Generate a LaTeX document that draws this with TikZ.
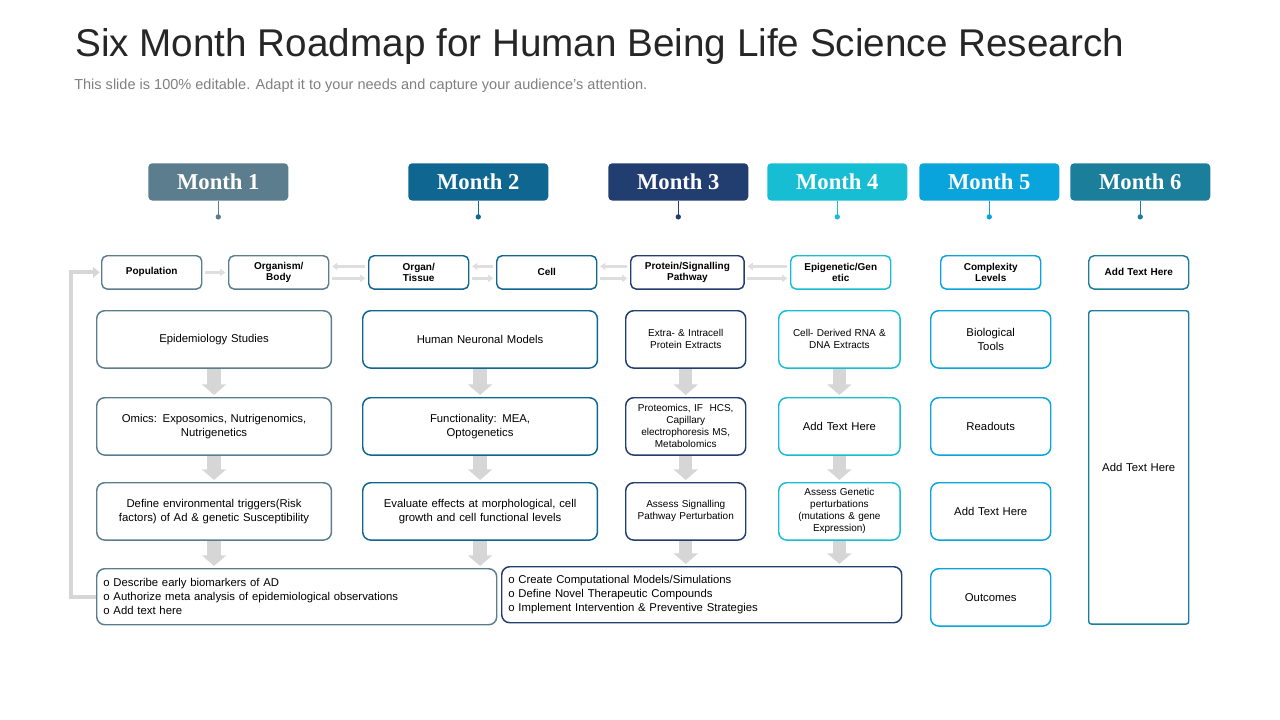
\documentclass[tikz,border=0pt]{standalone}
\usepackage{fontspec}
\setmainfont{Liberation Sans}
\newfontfamily\monthfont{Liberation Serif}
\usetikzlibrary{positioning,arrows.meta}

\definecolor{mOne}{HTML}{5B7D8E}
\definecolor{mTwo}{HTML}{0F6690}
\definecolor{mThree}{HTML}{223D70}
\definecolor{mFour}{HTML}{17BDD2}
\definecolor{mFive}{HTML}{0AA4DC}
\definecolor{mSix}{HTML}{1B7F9B}
\definecolor{arrowGray}{HTML}{D6D6D6}
\definecolor{titleGray}{HTML}{262626}
\definecolor{subGray}{HTML}{7F7F7F}

\tikzset{
  month/.style={fill=#1, text=white, anchor=north west, minimum width=105pt,
    minimum height=28pt, rounded corners=3pt, inner sep=0pt,
    font=\monthfont\fontsize{17}{17}\selectfont\bfseries},
  stem/.style={draw=#1, line width=0.6pt},
  dot/.style={circle, fill=#1, inner sep=0pt, minimum size=4pt},
  level/.style={draw=#1, line width=1.1pt, fill=white, rounded corners=4pt,
    anchor=north west, minimum width=75pt, minimum height=25pt, text width=70pt,
    align=center, inner sep=1pt, font=\fontsize{7.5}{8.5}\selectfont\bfseries},
  stepbox/.style={draw=#1, line width=1.1pt, fill=white, rounded corners=6pt,
    anchor=north west, minimum height=43pt, align=center, inner sep=2pt,
    font=\fontsize{8.5}{10.5}\selectfont},
  smallbox/.style={stepbox=#1, font=\fontsize{7.5}{9}\selectfont},
  listbox/.style={draw=#1, line width=1.1pt, fill=white, rounded corners=6pt,
    anchor=north west, minimum width=300pt, minimum height=42pt, text width=290pt,
    align=left, inner sep=4pt, font=\fontsize{8.5}{10.5}\selectfont},
  downarrow/.style={draw=arrowGray, line width=10pt,
    -{Triangle[length=8pt,width=18pt]}, shorten >=1.5pt},
  harrow/.style={draw=arrowGray!80, line width=2.5pt,
    -{Triangle[length=4pt,width=5.5pt]}, shorten >=2pt, shorten <=2pt},
  backline/.style={draw=arrowGray, line width=3pt,
    -{Triangle[length=5pt,width=8pt]}, shorten >=1pt},
}

\begin{document}
\begin{tikzpicture}[x=0.75pt, y=-0.75pt]
  \useasboundingbox (0,0) rectangle (1280,720);

  % title
  \node[anchor=west, text=titleGray, font=\fontsize{29}{29}\selectfont, inner sep=0pt]
    (title) at (75,47) {Six Month Roadmap for Human Being Life Science Research};
  \node[anchor=west, text=subGray, font=\fontsize{10.9}{12}\selectfont, inner sep=0pt]
    (subtitle) at (74,86)
    {This slide is 100\% editable. Adapt it to your needs and capture your audience's attention.};

  % month headers
  \node[month=mOne]   (mon1) at (148,163)  {Month 1};
  \node[month=mTwo]   (mon2) at (408,163)  {Month 2};
  \node[month=mThree] (mon3) at (608,163)  {Month 3};
  \node[month=mFour]  (mon4) at (767,163)  {Month 4};
  \node[month=mFive]  (mon5) at (919,163)  {Month 5};
  \node[month=mSix]   (mon6) at (1070,163) {Month 6};
  \foreach \m/\c in {mon1/mOne, mon2/mTwo, mon3/mThree, mon4/mFour, mon5/mFive, mon6/mSix}
    \draw[stem=\c] (\m.south) -- ++(0,16) node[dot=\c] {};

  % levels
  \node[level=mOne]   (population) at (101,255)  {Population};
  \node[level=mOne]   (organism)   at (228,255)  {Organism/\\Body};
  \node[level=mTwo]   (organ)      at (368,255)  {Organ/\\Tissue};
  \node[level=mTwo]   (cell)       at (496,255)  {Cell};
  \node[level=mThree, minimum width=85pt, text width=82pt]
                      (protein)    at (630,255)  {Protein/Signalling\\Pathway};
  \node[level=mFour]  (epigenetic) at (790,255)  {Epigenetic/Gen\\etic};
  \node[level=mFive]  (complexity) at (940,255)  {Complexity\\Levels};
  \node[level=mSix]   (addlevel)   at (1088,255) {Add Text Here};

  \draw[harrow] (population) -- (organism);
  \foreach \a/\b in {organism/organ, organ/cell, cell/protein, protein/epigenetic} {
    \draw[harrow] ([yshift=4.5pt]\b.west) -- ([yshift=4.5pt]\a.east);
    \draw[harrow] ([yshift=-4.5pt]\a.east) -- ([yshift=-4.5pt]\b.west);
  }

  % month 1 and 2 columns
  \node[stepbox=mOne, minimum width=176pt, text width=166pt] (epi)   at (96,310)
    {Epidemiology Studies};
  \node[stepbox=mOne, minimum width=176pt, text width=166pt] (omics) at (96,397)
    {Omics: Exposomics, Nutrigenomics,\\Nutrigenetics};
  \node[stepbox=mOne, minimum width=176pt, text width=166pt] (envir) at (96,482)
    {Define environmental triggers(Risk\\factors) of Ad \& genetic Susceptibility};
  \node[stepbox=mTwo, minimum width=176pt, text width=166pt] (neuro) at (362,310)
    {Human Neuronal Models};
  \node[stepbox=mTwo, minimum width=176pt, text width=166pt] (funct) at (362,397)
    {Functionality: MEA,\\Optogenetics};
  \node[stepbox=mTwo, minimum width=176pt, text width=166pt] (evalu) at (362,482)
    {Evaluate effects at morphological, cell\\growth and cell functional levels};

  % month 3 and 4 columns
  \node[smallbox=mThree, minimum width=90pt, text width=84pt] (extra)  at (625,310)
    {Extra- \& Intracell\\Protein Extracts};
  \node[smallbox=mThree, minimum width=90pt, text width=84pt] (proteo) at (625,397)
    {Proteomics, IF\ \ HCS,\\Capillary\\electrophoresis MS,\\Metabolomics};
  \node[smallbox=mThree, minimum width=90pt, text width=84pt] (signal) at (625,482)
    {Assess Signalling\\Pathway Perturbation};
  \node[smallbox=mFour, minimum width=91pt, text width=85pt] (rna)     at (778,310)
    {Cell- Derived RNA \&\\DNA Extracts};
  \node[stepbox=mFour, minimum width=91pt, text width=85pt]  (addfour) at (778,397)
    {Add Text Here};
  \node[smallbox=mFour, minimum width=91pt, text width=85pt] (genetic) at (778,482)
    {Assess Genetic\\perturbations\\(mutations \& gene\\Expression)};

  % month 5 and 6 columns
  \node[stepbox=mFive, minimum width=90pt, text width=84pt] (biotools) at (930,310) {Biological\\Tools};
  \node[stepbox=mFive, minimum width=90pt, text width=84pt] (readouts) at (930,397) {Readouts};
  \node[stepbox=mFive, minimum width=90pt, text width=84pt] (addfive)  at (930,482) {Add Text Here};
  \node[stepbox=mFive, minimum width=90pt, text width=84pt] (outcomes) at (930,568) {Outcomes};
  \node[stepbox=mSix, minimum width=75pt, minimum height=235pt, text width=70pt, rounded corners=2pt]
    (addsix) at (1088,310) {Add Text Here};

  % wide boxes
  \node[listbox=mOne] (early) at (96,568)
    {o Describe early biomarkers of AD\\o Authorize meta analysis of epidemiological observations\\o Add text here};
  \node[listbox=mThree] (models) at (501,566)
    {o Create Computational Models/Simulations\\o Define Novel Therapeutic Compounds\\o Implement Intervention \& Preventive Strategies};

  % down arrows
  \foreach \a/\b in {epi/omics, omics/envir, neuro/funct, funct/evalu, extra/proteo,
                     proteo/signal, rna/addfour, addfour/genetic}
    \draw[downarrow] (\a.south) -- (\b.north);
  \draw[downarrow] (envir.south) -- (envir.south|-early.north);
  \draw[downarrow] (evalu.south) -- (evalu.south|-early.north);
  \draw[downarrow] (signal.south) -- (signal.south|-models.north);
  \draw[downarrow] (genetic.south) -- (genetic.south|-models.north);

  % feedback
  \draw[backline] (early.west) -- ++(-25,0) |- (population.west);
\end{tikzpicture}
\end{document}
